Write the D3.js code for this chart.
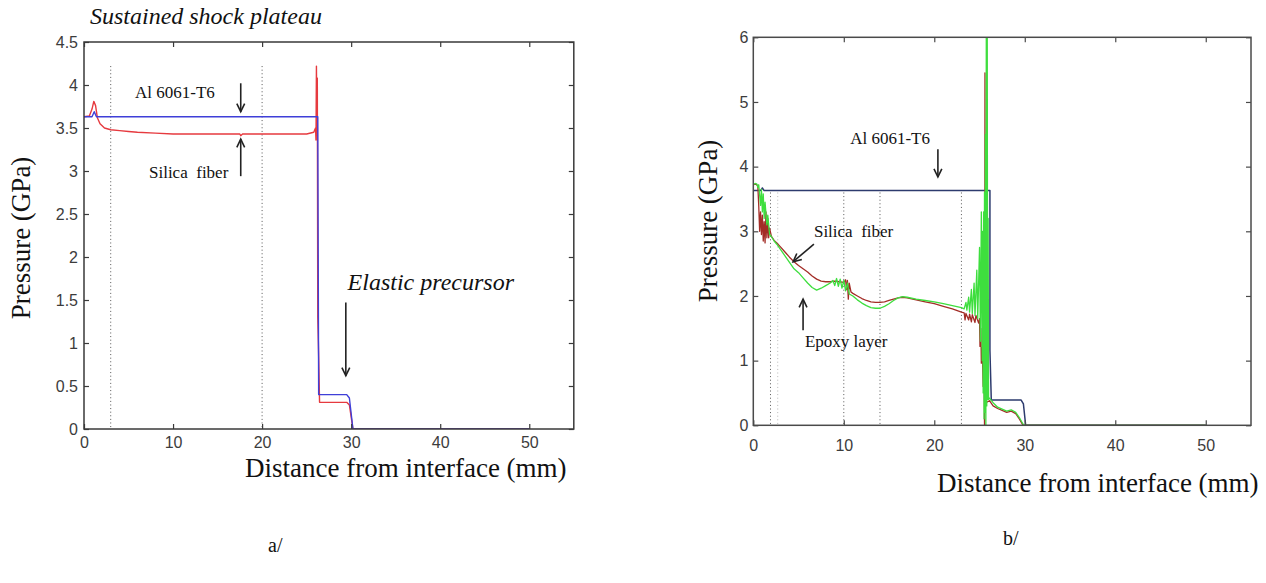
<!DOCTYPE html>
<html><head><meta charset="utf-8">
<script src="https://cdn.jsdelivr.net/npm/d3@7"></script>
<style>body{margin:0;background:#fff}svg{display:block}</style>
</head><body><svg id="c" width="1266" height="583"></svg>
<script>
// ---------- data ----------
const xTicks = [0, 10, 20, 30, 40, 50];
const xTickLabels = ["0", "10", "20", "30", "40", "50"];
const aYTicks = [0, 0.5, 1, 1.5, 2, 2.5, 3, 3.5, 4, 4.5];
const aYTickLabels = ["0", "0.5", "1", "1.5", "2", "2.5", "3", "3.5", "4", "4.5"];
const bYTicks = [0, 1, 2, 3, 4, 5, 6];
const bYTickLabels = ["0", "1", "2", "3", "4", "5", "6"];

// panel a/ : Al 6061-T6 (blue)
const aAlX = [0, 0.9, 1.15, 1.4, 26.25, 26.35, 29.5, 29.8, 30.2, 50];
const aAlP = [3.63, 3.63, 3.69, 3.63, 3.63, 0.40, 0.40, 0.36, 0, 0];
// panel a/ : Silica fiber (red)
const aSiX = [0, 0.6, 0.9, 1.1, 1.3, 1.5, 1.8, 2.3, 3, 4, 5, 6, 8, 10, 15, 17.5, 17.6, 17.8, 20, 25, 25.8, 26.0, 26.05, 26.1, 26.15, 26.2, 26.25, 26.35, 26.45, 29.5, 29.8, 30.2, 50];
const aSiP = [3.63, 3.64, 3.72, 3.81, 3.76, 3.62, 3.55, 3.50, 3.48, 3.47, 3.46, 3.45, 3.44, 3.43, 3.43, 3.43, 3.41, 3.43, 3.43, 3.43, 3.45, 3.50, 3.36, 4.22, 3.60, 4.08, 1.30, 0.85, 0.31, 0.31, 0.28, 0, 0];
const aDotted = [3, 20];

// panel b/ : Al 6061-T6 (navy)
const bAlX = [0, 0.8, 1.0, 1.2, 26.15, 26.15, 26.3, 29.6, 29.85, 30.1, 50];
const bAlP = [3.63, 3.63, 3.67, 3.63, 3.63, 1.16, 0.39, 0.39, 0.33, 0, 0];
// panel b/ : Silica fiber (dark red)
const bSiX = [0, 0.3, 0.5, 0.6, 0.7, 0.8, 0.9, 1.0, 1.1, 1.2, 1.3, 1.4, 1.5, 1.6, 1.7, 1.8, 2.0, 2.3, 2.6, 3.0, 3.5, 4.0, 4.5, 5.0, 5.5, 6.0, 6.5, 7.0, 7.5, 8.0, 8.5, 9.0, 9.5, 10.0, 10.2, 10.3, 10.4, 10.5, 10.6, 10.8, 11.0, 11.5, 12.0, 12.5, 13.0, 13.5, 14.0, 14.5, 15.0, 15.5, 16.0, 16.5, 17.0, 18.0, 19.0, 20.0, 21.0, 22.0, 23.0, 23.3, 23.4, 23.5, 23.8, 23.9, 24.1, 24.2, 24.5, 24.6, 24.9, 25.0, 25.05, 25.15, 25.2, 25.3, 25.4, 25.5, 25.55, 25.58, 25.6, 25.62, 25.7, 26.1, 26.5, 27.0, 27.5, 28.0, 28.5, 29.0, 29.4, 29.8, 50];
const bSiP = [3.72, 3.73, 3.70, 3.40, 3.00, 3.30, 2.95, 3.25, 2.85, 3.15, 2.82, 3.30, 2.90, 3.20, 2.90, 3.05, 2.92, 2.86, 2.82, 2.76, 2.68, 2.60, 2.53, 2.47, 2.42, 2.37, 2.31, 2.26, 2.23, 2.22, 2.22, 2.23, 2.22, 2.21, 2.25, 2.10, 2.24, 1.95, 2.20, 2.06, 2.04, 2.00, 1.96, 1.93, 1.91, 1.90, 1.90, 1.91, 1.93, 1.95, 1.97, 1.98, 1.97, 1.94, 1.91, 1.88, 1.84, 1.80, 1.75, 1.74, 1.63, 1.73, 1.63, 1.72, 1.60, 1.71, 1.59, 1.70, 1.58, 1.65, 1.22, 1.50, 0.96, 1.20, 0.60, 0.90, 0.00, 0.45, 5.45, 0.40, 0.35, 0.38, 0.30, 0.26, 0.23, 0.20, 0.22, 0.18, 0.10, 0, 0];
// panel b/ : Epoxy layer (green)
const bEpX = [0, 0.2, 0.4, 0.5, 0.6, 0.8, 0.9, 1.0, 1.1, 1.2, 1.3, 1.5, 1.6, 1.8, 2.0, 2.3, 2.6, 3.0, 3.5, 4.0, 4.5, 5.0, 5.5, 6.0, 6.5, 7.0, 7.5, 8.0, 8.5, 8.8, 9.0, 9.2, 9.4, 9.6, 9.8, 10.0, 10.2, 10.4, 10.6, 11.0, 11.5, 12.0, 12.5, 13.0, 13.5, 14.0, 14.5, 15.0, 15.5, 16.0, 16.5, 17.0, 18.0, 19.0, 20.0, 21.0, 22.0, 23.0, 23.3, 23.5, 23.6, 23.8, 23.9, 24.1, 24.2, 24.4, 24.5, 24.7, 24.8, 25.0, 25.1, 25.2, 25.3, 25.35, 25.4, 25.45, 25.5, 25.55, 25.6, 25.65, 25.7, 25.75, 25.8, 25.85, 25.9, 25.95, 26.0, 26.1, 26.5, 27.0, 27.5, 28.0, 28.5, 29.0, 29.4, 29.8, 30.0, 50];
const bEpP = [3.72, 3.74, 3.73, 3.68, 3.72, 3.40, 3.65, 3.30, 3.58, 3.20, 3.45, 3.10, 3.25, 2.95, 2.92, 2.85, 2.80, 2.72, 2.62, 2.52, 2.42, 2.36, 2.28, 2.20, 2.13, 2.09, 2.12, 2.16, 2.20, 2.24, 2.16, 2.27, 2.15, 2.26, 2.12, 2.24, 2.08, 2.20, 2.03, 2.00, 1.94, 1.89, 1.85, 1.82, 1.81, 1.81, 1.84, 1.88, 1.93, 1.97, 1.99, 1.98, 1.95, 1.93, 1.91, 1.88, 1.85, 1.82, 1.80, 1.90, 1.78, 1.98, 1.75, 2.10, 1.73, 2.20, 1.70, 2.40, 1.65, 2.75, 1.30, 3.30, 1.00, 3.00, 0.50, 3.30, 0.10, 3.60, 0.20, 4.50, 0.00, 6.50, 0.30, 6.50, 0.40, 3.20, 0.40, 0.42, 0.35, 0.28, 0.25, 0.22, 0.24, 0.20, 0.12, 0.02, 0, 0];
const bDotted = [1.9, 2.7, 10, 14, 23];

// ---------- drawing ----------
const svg = d3.select("#c");
const serif = "'Liberation Serif','Times New Roman',serif";
const sans = "'Liberation Sans',Arial,sans-serif";

function panel(o) {
  const x = d3.scaleLinear().domain([0, 55]).range([o.left, o.right]);
  const y = d3.scaleLinear().domain([0, o.ymax]).range([o.bottom, o.top]);
  const g = svg.append("g");
  const clipId = "clip" + o.id;
  svg.append("clipPath").attr("id", clipId).append("rect")
    .attr("x", o.left).attr("y", o.top).attr("width", o.right - o.left).attr("height", o.bottom - o.top);

  // dotted verticals
  g.selectAll("line.dot").data(o.dotted).join("line")
    .attr("x1", d => x(d)).attr("x2", d => x(d))
    .attr("y1", y(o.dotTop)).attr("y2", y(0))
    .attr("stroke", d => (o.faint && o.faint.includes(d)) ? "#b8b8b8" : "#555")
    .attr("stroke-width", 1).attr("stroke-dasharray", "1,2.6");

  const line = d3.line().x(d => x(d[0])).y(d => y(d[1]));
  const lg = g.append("g").attr("clip-path", `url(#${clipId})`);
  o.series.forEach(s => {
    lg.append("path").datum(s.x.map((v, i) => [v, s.p[i]]))
      .attr("d", line).attr("fill", "none").attr("stroke", s.color)
      .attr("stroke-width", s.w || 1.3).attr("stroke-linejoin", "round");
  });

  // axes
  const ax = o.axisColor;
  const bottom = g.append("g").attr("transform", `translate(0,${o.bottom})`)
    .call(d3.axisBottom(x).tickValues(xTicks).tickFormat((d, i) => xTickLabels[i]).tickSizeInner(-5).tickSizeOuter(0).tickPadding(o.xPad));
  const top = g.append("g").attr("transform", `translate(0,${o.top})`)
    .call(d3.axisTop(x).tickValues(xTicks).tickFormat("").tickSizeInner(-5).tickSizeOuter(0));
  const left = g.append("g").attr("transform", `translate(${o.left},0)`)
    .call(d3.axisLeft(y).tickValues(o.yTicks).tickFormat((d, i) => o.yLabels[i]).tickSizeInner(-5).tickSizeOuter(0).tickPadding(o.yPad));
  const right = g.append("g").attr("transform", `translate(${o.right},0)`)
    .call(d3.axisRight(y).tickValues(o.yTicks).tickFormat("").tickSizeInner(-5).tickSizeOuter(0));
  [bottom, top, left, right].forEach(a => {
    a.select(".domain").remove();
    a.selectAll("line").attr("stroke", ax).attr("stroke-width", 1.2);
    a.selectAll("text").attr("font-family", sans).attr("font-size", 16).attr("fill", "#3c3c3c");
  });
  g.append("rect").attr("x", o.left).attr("y", o.top)
    .attr("width", o.right - o.left).attr("height", o.bottom - o.top)
    .attr("fill", "none").attr("stroke", ax).attr("stroke-width", 1.5);

  // axis titles
  g.append("text").attr("transform", `translate(${o.yLabX},${o.yLabY}) rotate(-90)`)
    .attr("text-anchor", "middle").attr("font-family", serif).attr("font-size", o.yLabSize)
    .attr("fill", "#111").text("Pressure (GPa)");
  g.append("text").attr("x", o.xLabX).attr("y", o.xLabY)
    .attr("font-family", serif).attr("font-size", o.xLabSize)
    .attr("fill", "#111").text("Distance from interface (mm)");
  g.append("text").attr("x", o.capX).attr("y", o.capY)
    .attr("font-family", serif).attr("font-size", 20).attr("fill", "#111").text(o.caption);

  // annotations in data coordinates
  o.texts.forEach(t => {
    g.append("text").attr("x", x(t.x)).attr("y", y(t.y))
      .attr("font-family", serif).attr("font-size", t.size)
      .attr("font-style", t.italic ? "italic" : "normal")
      .attr("fill", "#111").attr("xml:space", "preserve").style("white-space", "pre").text(t.t);
  });
  o.arrows.forEach(a => {
    const x1 = x(a.x1), y1 = y(a.y1), x2 = x(a.x2), y2 = y(a.y2);
    const ang = Math.atan2(y2 - y1, x2 - x1);
    const L = 9, W = 0.45;
    g.append("line").attr("x1", x1).attr("y1", y1).attr("x2", x2).attr("y2", y2)
      .attr("stroke", "#222").attr("stroke-width", 1.6);
    g.append("path").attr("d",
      `M${x2 - L * Math.cos(ang - W)},${y2 - L * Math.sin(ang - W)}L${x2},${y2}L${x2 - L * Math.cos(ang + W)},${y2 - L * Math.sin(ang + W)}`)
      .attr("fill", "none").attr("stroke", "#222").attr("stroke-width", 1.6);
  });
}

panel({
  id: "a", left: 84, right: 573.8, top: 42, bottom: 429, ymax: 4.5,
  yTicks: aYTicks, yLabels: aYTickLabels, xPad: 8, yPad: 6,
  axisColor: "#3a3a3a", dotted: aDotted, dotTop: 4.22,
  series: [
    { x: aSiX, p: aSiP, color: "#e63a3f", w: 1.4 },
    { x: aAlX, p: aAlP, color: "#3f3fd8", w: 1.4 }
  ],
  yLabX: 30, yLabY: 238, yLabSize: 27,
  xLabX: 245, xLabY: 477, xLabSize: 27,
  capX: 268, capY: 552, caption: "a/",
  texts: [
    { t: "Sustained shock plateau", x: 0.67, y: 4.71, size: 24, italic: true },
    { t: "Al 6061-T6", x: 5.73, y: 3.85, size: 17 },
    { t: "Silica  fiber", x: 7.3, y: 2.92, size: 17 },
    { t: "Elastic precursor", x: 29.6, y: 1.62, size: 24, italic: true }
  ],
  arrows: [
    { x1: 17.6, y1: 4.02, x2: 17.6, y2: 3.69 },
    { x1: 17.6, y1: 2.94, x2: 17.6, y2: 3.37 },
    { x1: 29.4, y1: 1.47, x2: 29.4, y2: 0.62 }
  ]
});

panel({
  id: "b", left: 753.3, right: 1251, top: 37.3, bottom: 425.3, ymax: 6,
  yTicks: bYTicks, yLabels: bYTickLabels, xPad: 14, yPad: 5,
  axisColor: "#4a4a4a", dotted: bDotted, faint: [2.7], dotTop: 3.6,
  series: [
    { x: bAlX, p: bAlP, color: "#2d3b6e", w: 1.5 },
    { x: bSiX, p: bSiP, color: "#a32d27", w: 1.3 },
    { x: bEpX, p: bEpP, color: "#3ede3e", w: 1.3 }
  ],
  yLabX: 717, yLabY: 221, yLabSize: 27,
  xLabX: 937, xLabY: 492, xLabSize: 27,
  capX: 1003, capY: 545, caption: "b/",
  texts: [
    { t: "Al 6061-T6", x: 10.7, y: 4.35, size: 17 },
    { t: "Silica  fiber", x: 6.7, y: 2.91, size: 17 },
    { t: "Epoxy layer", x: 5.7, y: 1.21, size: 17 }
  ],
  arrows: [
    { x1: 20.4, y1: 4.27, x2: 20.4, y2: 3.84 },
    { x1: 6.7, y1: 2.80, x2: 4.4, y2: 2.53 },
    { x1: 5.5, y1: 1.47, x2: 5.5, y2: 1.95 }
  ]
});
</script>
</body></html>
